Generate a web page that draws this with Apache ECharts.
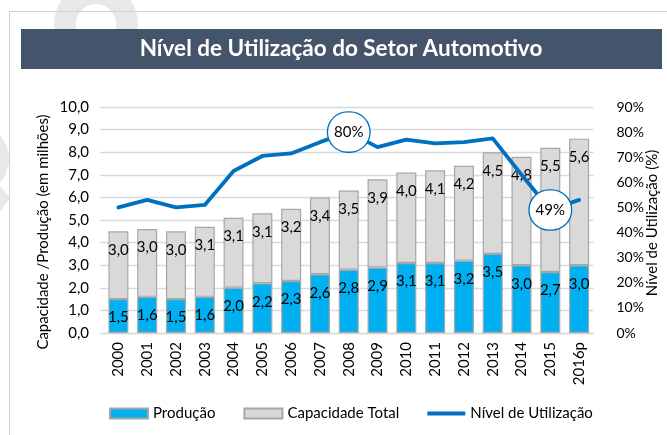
<!DOCTYPE html>
<html>
<head>
<meta charset="utf-8">
<script src="https://cdn.jsdelivr.net/npm/echarts@6/dist/echarts.min.js"></script>
<style>
  html, body { margin: 0; padding: 0; background: #ffffff; }
  #chart { width: 667px; height: 435px; }
</style>
</head>
<body>
<div id="chart"></div>
<script>
// Anos (eixo das categorias)
const anos = ['2000', '2001', '2002', '2003', '2004', '2005', '2006', '2007', '2008',
              '2009', '2010', '2011', '2012', '2013', '2014', '2015', '2016p'];
// Produção (milhões de veículos)
const producao = [1.5, 1.6, 1.5, 1.6, 2.0, 2.2, 2.3, 2.6, 2.8, 2.9, 3.1, 3.1, 3.2, 3.5, 3.0, 2.7, 3.0];
// Capacidade total: parcela empilhada acima da produção (milhões)
const capacidadeParcela = [3.0, 3.0, 3.0, 3.1, 3.1, 3.1, 3.2, 3.4, 3.5, 3.9, 4.0, 4.1, 4.2, 4.5, 4.8, 5.5, 5.6];
// Nível de utilização da capacidade (%)
const utilizacao = [50, 53, 50, 51, 64.5, 70.5, 71.5, 76, 80, 74, 77, 75.5, 76, 77.5, 63, 49, 53];
// Pontos da linha com rótulo em destaque
const anosDestacados = ['2008', '2015'];

const FONT = 'Lato, "Open Sans", sans-serif';
const AZUL = '#00B0F0';
const CINZA = '#D9D9D9';
const CONTORNO = '#A6A6A6';
const LINHA = '#0070C0';

const virgula = v => v.toFixed(1).replace('.', ',');

const linhaDados = utilizacao.map((v, i) => {
  if (anosDestacados.indexOf(anos[i]) < 0) return v;
  return {
    value: v,
    label: {
      show: true,
      position: 'inside',
      formatter: p => Math.round(p.value) + '%',
      color: '#000',
      fontFamily: FONT,
      fontSize: 15,
      backgroundColor: '#ffffff',
      borderColor: LINHA,
      borderWidth: 1.3,
      borderRadius: 20,
      padding: [12, 6, 12, 6],
      lineHeight: 15
    }
  };
});

const chart = echarts.init(document.getElementById('chart'), null, { renderer: 'canvas' });

chart.setOption({
  animation: false,
  backgroundColor: '#ffffff',
  textStyle: { fontFamily: FONT },
  graphic: [
    // marca-d'água clara ao fundo
    { type: 'ring', z: -10, shape: { cx: 96, cy: 24, r: 42, r0: 20 }, style: { fill: '#E8E8E8' } },
    { type: 'circle', z: -10, shape: { cx: -27, cy: 159, r: 36 }, style: { fill: '#E8E8E8' } },
    { type: 'polygon', z: -10, shape: { points: [[0, 186], [10, 198], [0, 212]] }, style: { fill: '#E8E8E8' } },
    // moldura
    { type: 'rect', z: -5, shape: { x: 9.5, y: 11.5, width: 700, height: 500 },
      style: { fill: 'none', stroke: '#CFCFCF', lineWidth: 1 } },
    // faixa do título
    { type: 'rect', z: 1, shape: { x: 21, y: 29, width: 641, height: 40 }, style: { fill: '#44546A' } },
    { type: 'text', z: 2, x: 341, y: 49,
      style: { text: 'Nível de Utilização do Setor Automotivo', fill: '#ffffff',
               font: 'bold 22.5px ' + FONT, textAlign: 'center', textVerticalAlign: 'middle' } },
    // títulos dos eixos
    { type: 'text', z: 2, x: 43, y: 232, rotation: Math.PI / 2,
      style: { text: 'Capacidade /Produção (em milhões)', fill: '#000',
               font: '15px ' + FONT, textAlign: 'center', textVerticalAlign: 'middle' } },
    { type: 'text', z: 2, x: 652, y: 223, rotation: Math.PI / 2,
      style: { text: 'Nível de Utilização (%)', fill: '#000',
               font: '15px ' + FONT, textAlign: 'center', textVerticalAlign: 'middle' } }
  ],
  grid: { left: 104, right: 73.5, top: 107, bottom: 102 },
  legend: {
    left: 104,
    top: 401,
    itemWidth: 38,
    itemHeight: 10,
    itemGap: 28,
    textStyle: { fontFamily: FONT, fontSize: 15, color: '#000' },
    data: [
      { name: 'Produção', icon: 'rect' },
      { name: 'Capacidade Total', icon: 'rect' },
      { name: 'Nível de Utilização', icon: 'path://M0,0L38,0L38,4L0,4Z' }
    ]
  },
  xAxis: {
    type: 'category',
    data: anos,
    axisLine: { lineStyle: { color: CINZA, width: 1.3 } },
    axisTick: { show: false },
    axisLabel: { rotate: 90, margin: 9, color: '#000', fontFamily: FONT, fontSize: 15, interval: 0 }
  },
  yAxis: [
    {
      type: 'value',
      min: 0, max: 10, interval: 1,
      axisLine: { show: false },
      axisTick: { show: true, length: 4, lineStyle: { color: CINZA, width: 1.3 } },
      splitLine: { lineStyle: { color: CINZA, width: 1.3 } },
      axisLabel: { formatter: virgula, margin: 15, color: '#000', fontFamily: FONT, fontSize: 15 }
    },
    {
      type: 'value',
      min: 0, max: 90, interval: 10,
      position: 'right',
      axisLine: { show: false },
      axisTick: { show: false },
      splitLine: { show: false },
      axisLabel: { formatter: '{value}%', margin: 23, color: '#000', fontFamily: FONT, fontSize: 14 }
    }
  ],
  series: [
    {
      name: 'Produção',
      type: 'bar',
      stack: 'cap',
      barWidth: 20,
      data: producao,
      itemStyle: { color: AZUL, borderColor: CONTORNO, borderWidth: 1.2 },
      label: {
        show: true, position: 'insideTop', distance: 11,
        formatter: p => virgula(p.value), color: '#000', fontFamily: FONT, fontSize: 15
      },
      z: 2
    },
    {
      name: 'Capacidade Total',
      type: 'bar',
      stack: 'cap',
      barWidth: 20,
      data: capacidadeParcela,
      itemStyle: { color: CINZA, borderColor: CONTORNO, borderWidth: 1.2 },
      label: {
        show: true, position: 'insideTop', distance: 11,
        formatter: p => virgula(p.value), color: '#000', fontFamily: FONT, fontSize: 15
      },
      z: 2
    },
    {
      name: 'Nível de Utilização',
      type: 'line',
      yAxisIndex: 1,
      data: linhaDados,
      symbol: 'circle',
      symbolSize: 1,
      showSymbol: true,
      showAllSymbol: true,
      lineStyle: { color: LINHA, width: 3.8, cap: 'round', join: 'round' },
      itemStyle: { color: LINHA },
      z: 5
    }
  ]
});
</script>
</body>
</html>
